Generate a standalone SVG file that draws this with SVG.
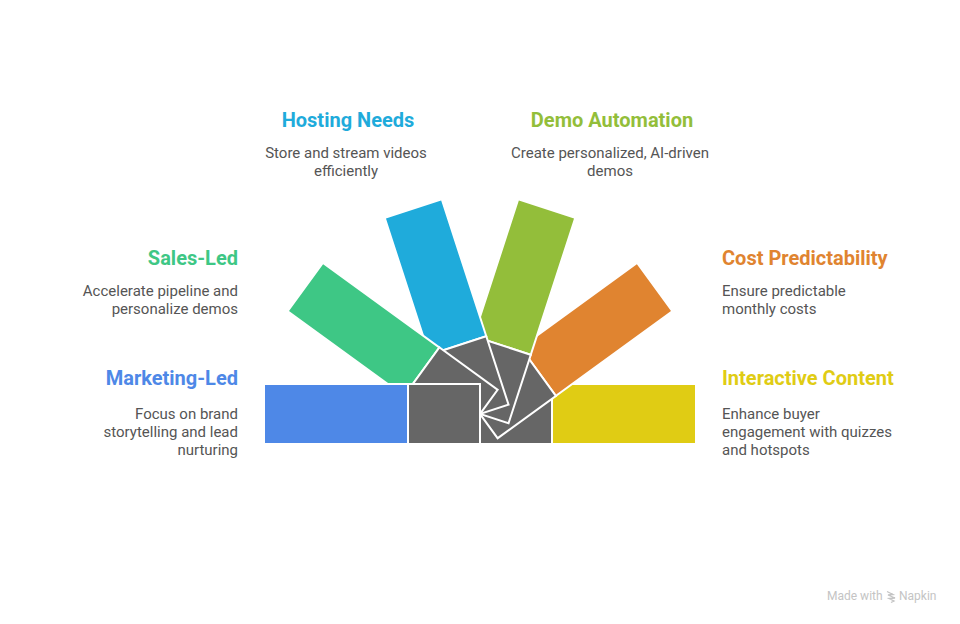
<svg xmlns="http://www.w3.org/2000/svg" width="960" height="624" viewBox="0 0 960 624">
<style>
text{font-family:Roboto,"Liberation Sans",sans-serif}
.s{stroke:#fff;stroke-width:2}
.g{fill:#666}
.t{font-size:20px;font-weight:700}
.b{font-size:15px;fill:#555}
.e{text-anchor:end}
.w{font-size:12px;fill:#c4c4c4}
</style>
<rect width="960" height="624" fill="#fff"/>
<g id="connectors"/>
<g id="interactive-content">
<rect class="s" x="552" y="384" width="144" height="60" fill="#E0CC14"/>
<rect class="s g" x="480" y="384" width="72" height="60"/>
<text class="t" x="722" y="385" fill="#E0CC14">Interactive Content</text>
<text class="b" x="722" y="419">Enhance buyer</text>
<text class="b" x="722" y="437">engagement with quizzes</text>
<text class="b" x="722" y="455">and hotspots</text>
</g>
<g id="cost-predictability">
<rect class="s" x="264" y="384" width="144" height="60" fill="#E08430" transform="rotate(144 480 414)"/>
<rect class="s g" x="408" y="384" width="72" height="60" transform="rotate(144 480 414)"/>
<text class="t" x="722" y="265" fill="#E08430">Cost Predictability</text>
<text class="b" x="722" y="296">Ensure predictable</text>
<text class="b" x="722" y="314">monthly costs</text>
</g>
<g id="demo-automation">
<rect class="s" x="264" y="384" width="144" height="60" fill="#93BE3A" transform="rotate(108 480 414)"/>
<rect class="s g" x="408" y="384" width="72" height="60" transform="rotate(108 480 414)"/>
<text class="t" x="612" y="127" fill="#93BE3A" text-anchor="middle">Demo Automation</text>
<text class="b" x="610" y="158" text-anchor="middle">Create personalized, AI-driven</text>
<text class="b" x="610" y="176" text-anchor="middle">demos</text>
</g>
<g id="hosting-needs">
<rect class="s" x="264" y="384" width="144" height="60" fill="#1FABDB" transform="rotate(72 480 414)"/>
<rect class="s g" x="408" y="384" width="72" height="60" transform="rotate(72 480 414)"/>
<text class="t" x="348" y="127" fill="#1FABDB" text-anchor="middle">Hosting Needs</text>
<text class="b" x="346" y="158" text-anchor="middle">Store and stream videos</text>
<text class="b" x="346" y="176" text-anchor="middle">efficiently</text>
</g>
<g id="sales-led">
<rect class="s" x="264" y="384" width="144" height="60" fill="#3EC785" transform="rotate(36 480 414)"/>
<rect class="s g" x="408" y="384" width="72" height="60" transform="rotate(36 480 414)"/>
<text class="t e" x="238" y="265" fill="#3EC785">Sales-Led</text>
<text class="b e" x="238" y="296">Accelerate pipeline and</text>
<text class="b e" x="238" y="314">personalize demos</text>
</g>
<g id="marketing-led">
<rect class="s" x="264" y="384" width="144" height="60" fill="#4E88E7"/>
<rect class="s g" x="408" y="384" width="72" height="60"/>
<text class="t e" x="238" y="385" fill="#4E88E7">Marketing-Led</text>
<text class="b e" x="238" y="419">Focus on brand</text>
<text class="b e" x="238" y="437">storytelling and lead</text>
<text class="b e" x="238" y="455">nurturing</text>
</g>
<g id="watermark">
<text class="w" x="827" y="600">Made with</text>
<path d="M887 591.500l6 3-5 .5 7 3-6 .5 5 2.500-3 1.500" stroke="#c4c4c4" stroke-width="1.300" fill="none"/>
<text class="w" x="899" y="600">Napkin</text>
</g>
</svg>
